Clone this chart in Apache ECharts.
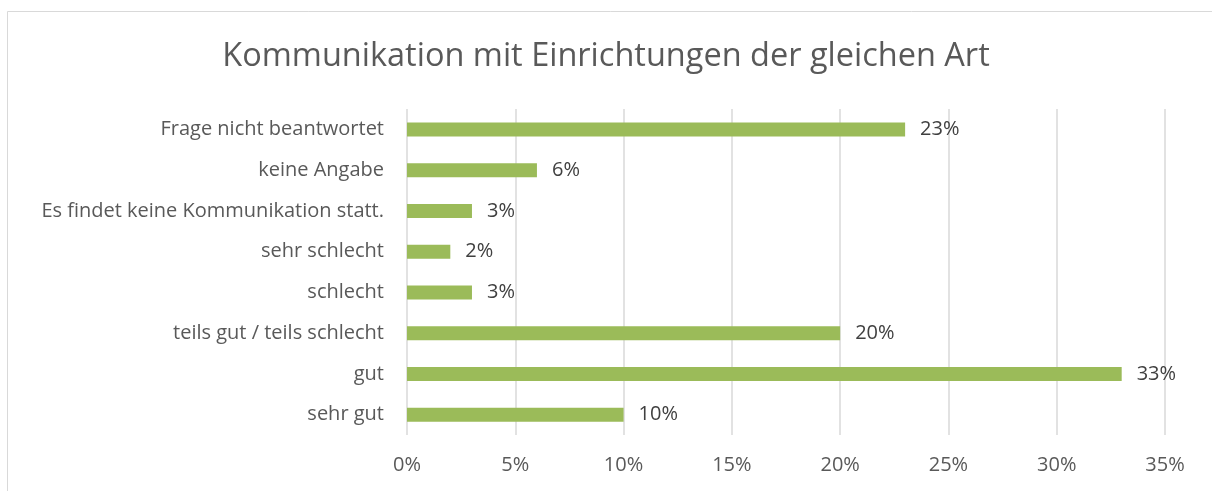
<!DOCTYPE html>
<html>
<head>
<meta charset="utf-8">
<script src="https://cdn.jsdelivr.net/npm/echarts@6/dist/echarts.min.js"></script>
<style>
  html, body { margin: 0; padding: 0; background: #fff; }
  #chart { width: 1212px; height: 491px; }
</style>
</head>
<body>
<div id="chart"></div>
<script>
// data, bottom to top like the picture
var CATEGORIES = ['sehr gut', 'gut', 'teils gut / teils schlecht', 'schlecht', 'sehr schlecht',
  'Es findet keine Kommunikation statt.', 'keine Angabe', 'Frage nicht beantwortet'];
var VALUES = [10, 33, 20, 3, 2, 3, 6, 23];
var TITLE = 'Kommunikation mit Einrichtungen der gleichen Art';

var FONT = '"Open Sans", Lato, sans-serif';

var myChart = echarts.init(document.getElementById('chart'));

var option = {
  backgroundColor: '#fff',
  animation: false,
  title: {
    text: TITLE,
    left: 'center',
    top: 35,
    textStyle: { fontFamily: FONT, fontSize: 32.5, fontWeight: 'normal', color: '#595959' }
  },
  graphic: [{
    type: 'rect',
    shape: { x: 7.5, y: 11.5, width: 1220, height: 500 },
    style: { fill: 'none', stroke: '#d9d9d9', lineWidth: 1 },
    silent: true
  }],
  grid: { left: 407, right: 47, top: 109, bottom: 56 },
  xAxis: {
    type: 'value',
    min: 0,
    max: 35,
    interval: 5,
    axisLine: { show: false },
    axisTick: { show: false },
    splitLine: { lineStyle: { color: '#d9d9d9', width: 1.5 } },
    axisLabel: {
      margin: 20,
      fontFamily: FONT, fontSize: 20, color: '#595959',
      formatter: '{value}%'
    }
  },
  yAxis: {
    type: 'category',
    data: CATEGORIES,
    axisLine: { show: false },
    axisTick: { show: false },
    axisLabel: { margin: 23, fontFamily: FONT, fontSize: 20, color: '#595959' }
  },
  series: [{
    type: 'bar',
    data: VALUES,
    barWidth: 14,
    itemStyle: { color: '#9bbb59' },
    label: {
      show: true,
      position: 'right',
      distance: 15,
      fontFamily: FONT, fontSize: 20, color: '#404040',
      formatter: '{c}%'
    }
  }]
};

myChart.setOption(option);
</script>
</body>
</html>
